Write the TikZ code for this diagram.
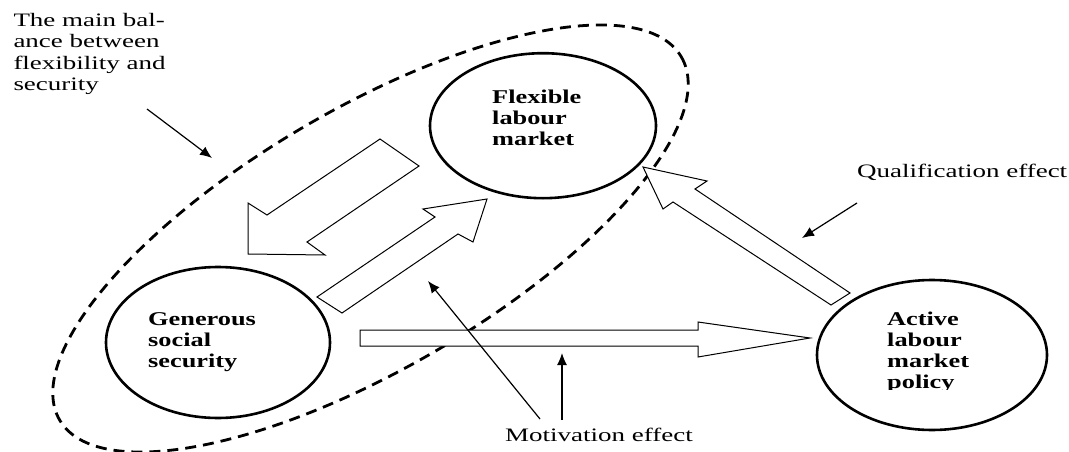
\documentclass[tikz,border=0pt]{standalone}
\usepackage{fontspec}
\setmainfont{Liberation Serif}
\newfontfamily\lblfont[FakeStretch=1.42]{Liberation Serif}
\newfontfamily\bubfont[FakeStretch=1.35]{Liberation Serif Bold}
\usetikzlibrary{arrows.meta,shapes.geometric}
\tikzset{
  bubble/.style={draw, ellipse, line width=2.6pt, inner sep=0pt},
  blockarrow/.style={draw, line width=1pt, fill=white, line join=miter},
  pointer/.style={draw, line width=1.2pt, -{Latex[length=12pt,width=10pt]}},
  balance/.style={draw, line width=2.8pt, dash pattern=on 11pt off 7pt},
  labeltext/.style={anchor=base west, inner sep=0pt, font=\lblfont\fontsize{19}{21.3}\selectfont},
  bubbletext/.style={anchor=base west, inner sep=0pt, font=\bubfont\fontsize{19.5}{21}\selectfont}
}
\begin{document}
\begin{tikzpicture}[x=1pt, y=-1pt]
\useasboundingbox (0,0) rectangle (1069,452);

% dashed balance loop
\coordinate (balc) at (370.5,238.5);
\draw[balance, rotate around={30.3:(balc)}] (balc) ellipse [x radius=360, y radius=130];

% circles
\node[bubble, minimum width=226pt, minimum height=145pt] (flex) at (543,125.7) {};
\node[bubble, minimum width=224pt, minimum height=151pt] (gen) at (218,342.5) {};
\node[bubble, minimum width=230pt, minimum height=150pt] (alm) at (932,355) {};

% circle texts
\node[bubbletext] (flextext) at (492,103.3) {\begin{tabular}[t]{@{}l@{}}Flexible\\labour\\market\end{tabular}};
\node[bubbletext] (gentext) at (148,325.7) {\begin{tabular}[t]{@{}l@{}}Generous\\social\\security\end{tabular}};
\begin{scope}
\clip (870,290) rectangle (1010,389.5);
\node[bubbletext] (almtext) at (887,325.7) {\begin{tabular}[t]{@{}l@{}}Active\\labour\\market\\policy\end{tabular}};
\end{scope}

% block arrows
\draw[blockarrow] (380,139) -- (419,166) -- (307,242) -- (325,255) -- (248,254) -- (248,203) -- (267,215) -- cycle;
\draw[blockarrow] (317,297) -- (435,217) -- (423,209) -- (487,199) -- (473,242) -- (458,234) -- (342,313) -- cycle;
\draw[blockarrow] (360,330) -- (698,330) -- (698,322) -- (810,338) -- (698,357) -- (698,346) -- (360,346) -- cycle;
\draw[blockarrow] (850,293) -- (695,189) -- (707,181) -- (643,167) -- (663,209) -- (673,202) -- (831,305) -- cycle;

% labels
\node[labeltext] (baltext) at (13.3,26.7) {\begin{tabular}[t]{@{}l@{}}The main bal-\\ance between\\flexibility and\\security\end{tabular}};
\node[labeltext] (qualtext) at (857,177) {Qualification effect};
\node[labeltext] (mottext) at (505,441) {Motivation effect};

% pointers
\coordinate (balfrom) at (147,109);
\coordinate (balto) at (212,158);
\coordinate (qualfrom) at (857,203);
\coordinate (qualto) at (802,238);
\coordinate (motafrom) at (540,419);
\coordinate (motato) at (428,281);
\coordinate (motbfrom) at (562,420);
\coordinate (motbto) at (562,353);
\draw[pointer] (balfrom) -- (balto);
\draw[pointer] (qualfrom) -- (qualto);
\draw[pointer] (motafrom) -- (motato);
\draw[pointer] (motbfrom) -- (motbto);
\end{tikzpicture}
\end{document}
